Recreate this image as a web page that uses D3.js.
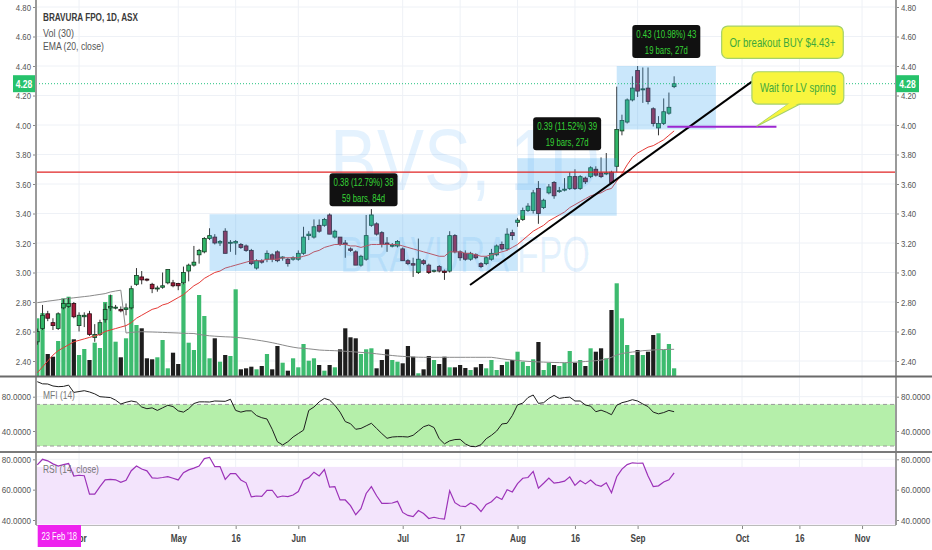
<!DOCTYPE html>
<html><head><meta charset="utf-8">
<script src="https://cdn.jsdelivr.net/npm/d3@7"></script>
<style>html,body{margin:0;padding:0;background:#fff;}svg{display:block;font-family:"Liberation Sans",Arial,sans-serif;}</style>
</head><body><svg id="c" width="932" height="550"></svg>
<script>
// ---------- DATA ----------
const opens = [2.53,2.62,2.72,2.66,2.62,2.76,2.77,2.79,2.64,2.70,
2.72,2.56,2.58,2.68,2.76,2.76,2.75,2.75,2.76,2.92,
2.97,2.955,2.92,2.89,2.90,2.93,2.93,2.925,2.93,3.01,
3.05,3.12,3.14,3.23,3.24,3.20,3.28,3.20,3.20,3.19,
3.18,3.15,3.03,3.08,3.09,3.12,3.14,3.10,3.09,3.09,
3.09,3.13,3.25,3.24,3.32,3.32,3.39,3.24,3.24,3.20,
3.16,3.14,3.05,3.09,3.32,3.33,3.27,3.20,3.18,3.18,
3.16,3.08,3.06,3.00,3.08,3.05,3.01,3.04,3.01,3.01,
3.25,3.14,3.13,3.09,3.12,3.06,3.06,3.09,3.12,3.19,
3.16,3.27,3.34,3.36,3.42,3.42,3.57,3.44,3.54,3.61,
3.55,3.56,3.57,3.65,3.57,3.64,3.65,3.70,3.675,3.67,
3.68,3.72,3.96,4.02,4.17,4.37,4.24,4.25,4.11,3.98,
4.01,4.08,4.26];
const highs = [2.62,2.78,2.74,2.69,2.73,2.82,2.83,2.80,2.73,2.73,
2.74,2.65,2.68,2.79,2.85,2.78,2.77,2.79,2.91,3.03,
3.01,2.96,2.93,2.91,3.00,3.02,2.95,2.93,3.04,3.06,
3.18,3.16,3.24,3.30,3.26,3.22,3.30,3.22,3.22,3.20,
3.19,3.16,3.09,3.09,3.15,3.13,3.15,3.11,3.10,3.11,
3.15,3.31,3.28,3.36,3.36,3.37,3.40,3.29,3.24,3.22,
3.17,3.15,3.12,3.39,3.43,3.34,3.28,3.24,3.20,3.22,
3.17,3.09,3.10,3.23,3.09,3.06,3.02,3.05,3.02,3.28,
3.26,3.15,3.15,3.14,3.13,3.07,3.11,3.16,3.19,3.21,
3.30,3.29,3.37,3.44,3.47,3.56,3.62,3.50,3.60,3.62,
3.58,3.64,3.68,3.70,3.66,3.65,3.72,3.72,3.78,3.81,
3.69,4.26,4.07,4.18,4.33,4.40,4.39,4.39,4.12,4.06,
4.18,4.22,4.33];
const lows = [2.51,2.61,2.67,2.61,2.61,2.75,2.76,2.69,2.60,2.63,
2.57,2.53,2.57,2.66,2.74,2.75,2.73,2.71,2.75,2.91,
2.92,2.94,2.86,2.87,2.89,2.92,2.90,2.88,2.92,2.94,
3.04,3.06,3.13,3.22,3.19,3.18,3.13,3.14,3.12,3.16,
3.14,3.05,3.02,3.06,3.07,3.07,3.07,3.08,3.04,3.08,
3.08,3.12,3.22,3.23,3.27,3.31,3.26,3.23,3.18,3.10,
3.14,3.05,3.04,3.08,3.31,3.25,3.17,3.14,3.17,3.17,
3.08,3.05,2.97,2.99,3.05,2.99,3.00,3.00,2.95,3.00,
3.13,3.08,3.08,3.08,3.09,3.03,3.05,3.08,3.11,3.15,
3.15,3.22,3.31,3.35,3.41,3.40,3.33,3.43,3.53,3.50,
3.54,3.55,3.56,3.56,3.56,3.60,3.64,3.65,3.64,3.66,
3.60,3.68,3.93,4.01,4.16,4.19,4.15,4.14,3.99,3.93,
4.00,4.07,4.25];
const closes = [2.60,2.71,2.69,2.64,2.72,2.79,2.79,2.70,2.71,2.71,
2.58,2.58,2.66,2.75,2.77,2.765,2.74,2.76,2.89,2.98,
2.95,2.95,2.89,2.895,2.91,3.02,2.91,2.91,3.00,3.05,
3.07,3.15,3.23,3.25,3.20,3.21,3.13,3.205,3.21,3.17,
3.15,3.06,3.08,3.07,3.13,3.09,3.08,3.105,3.06,3.10,
3.13,3.24,3.26,3.31,3.28,3.36,3.26,3.28,3.19,3.19,
3.15,3.05,3.11,3.25,3.39,3.26,3.19,3.19,3.185,3.21,
3.08,3.06,3.05,3.09,3.06,3.00,3.015,3.01,3.00,3.25,
3.14,3.10,3.09,3.13,3.10,3.04,3.10,3.13,3.18,3.16,
3.26,3.25,3.355,3.42,3.45,3.54,3.40,3.49,3.58,3.52,
3.555,3.565,3.65,3.57,3.65,3.615,3.71,3.66,3.65,3.675,
3.61,3.97,4.03,4.17,4.25,4.23,4.245,4.16,4.01,4.01,
4.09,4.12,4.28];
// volume in thousands of shares
const volumes = [577,630,220,193,350,777,793,367,210,270,
160,333,280,740,810,343,187,377,710,510,
477,177,167,187,360,77,233,120,927,333,
260,810,600,177,377,143,210,200,867,67,
77,93,67,100,220,67,300,133,53,177,
87,320,153,177,110,53,110,87,267,477,
387,377,220,267,277,77,160,267,160,143,
127,300,193,27,67,200,160,120,193,87,
87,110,80,60,87,120,77,160,60,110,
143,160,243,143,100,167,340,60,133,110,
100,133,250,133,160,100,277,243,277,177,
660,927,577,310,210,260,210,243,410,427,
260,320,77];
const volMA = [733,740,748,755,762,770,776,782,788,794,
800,808,816,824,840,850,858,430,436,440,
443,441,440,438,436,434,432,430,427,426,
425,415,408,402,398,395,392,390,387,382,
375,368,360,352,343,333,322,310,298,288,
280,277,272,266,260,257,255,253,250,247,
244,240,236,233,228,222,216,210,205,200,
196,193,190,188,187,187,187,187,187,187,
187,187,187,187,187,187,187,187,180,172,
165,160,155,150,146,143,141,139,137,135,
134,133,135,138,141,145,149,153,160,168,
187,210,225,233,240,245,253,257,260,263,
265,266,267];
const ema20 = [2.32,2.36,2.40,2.44,2.47,2.49,2.51,2.53,2.54,2.55,
2.56,2.57,2.58,2.60,2.61,2.62,2.63,2.64,2.66,2.69,
2.71,2.73,2.75,2.76,2.78,2.79,2.81,2.83,2.85,2.88,
2.91,2.93,2.96,2.98,3.00,3.01,3.03,3.04,3.05,3.06,
3.07,3.08,3.08,3.08,3.09,3.09,3.09,3.10,3.10,3.10,
3.10,3.11,3.12,3.14,3.15,3.17,3.18,3.19,3.19,3.19,
3.18,3.18,3.17,3.18,3.19,3.19,3.19,3.19,3.19,3.19,
3.18,3.17,3.16,3.15,3.14,3.13,3.12,3.11,3.11,3.14,
3.14,3.14,3.13,3.13,3.12,3.11,3.11,3.12,3.13,3.14,
3.15,3.17,3.19,3.22,3.25,3.28,3.30,3.32,3.35,3.37,
3.39,3.41,3.44,3.46,3.48,3.50,3.52,3.53,3.54,3.56,
3.57,3.62,3.67,3.73,3.78,3.81,3.83,3.85,3.86,3.88,
3.90,3.93,3.96];
const mfi14 = [97.5,95,94.8,92.5,91.7,92,93.5,85,86,87,
85.5,83.3,80,79.5,79,76,71.5,73.5,75,73.8,
68,66,67,64,67,70,68.5,63.5,62,66,
72,74,74,73.8,75,74.8,74.6,77,64,62,
63.5,63.5,58,55.5,54,42,27.5,23.7,27.5,33,
37,41,64,68,74,78,76,70,62,51,
48.5,42,43,46,49,43,37,31.5,33,33.4,
33.4,33,35,40,45,47,44,31,25,28.5,
30,30.3,25,22,21.7,24,31,35,40,48.2,
49,58,70.5,72.5,79,82,72.2,73,78,81.5,
78,79,79.5,75,75,70.3,69,62.5,64.3,62,
59,70,73,74.5,76.5,75,71.5,68.5,62,60,
61.5,64,62.5];
const rsi14 = [76.3,80,79,77,75.5,76.5,77.2,69,69.5,69.2,
57,57,62,66.5,66.8,66.5,64.8,66.2,72.5,75.6,
73.6,72.4,67.8,67.5,68,68.6,67.5,66.4,71.2,73,
74.2,75.5,80.5,81.3,75.2,75.2,66.8,70.5,70.5,66.4,
64.5,55.2,55.8,55.6,59.5,59.6,54.9,55.8,55.4,56.5,
58.7,66.2,67.9,71.5,69,73.2,61.7,62,53.2,53.2,
49.5,43.5,47.5,57.5,62,56,51,51,51.2,52.3,
45,43,42.2,46.2,44.3,41,41.8,41,40.6,59.3,
51.4,49.2,48.8,51.2,49.5,45.5,50.3,52,55.4,53.5,
60,58.5,64,67.5,68,72,61,64.2,67.6,64.3,
64.8,65.6,68.4,62.8,66,63.8,66.4,63.2,62.2,64.5,
58,68.5,73.5,76.5,77.7,77.4,77.5,69,62,62.5,
65,66.5,71];
const tickBars = [8,27,38,50,70,81,92,103,115,135,146,158];
const tickLabels = ["Apr","May","16","Jun","Jul","17","Aug","16","Sep","Oct","16","Nov"];
const priceTicks = [2.4,2.6,2.8,3.0,3.2,3.4,3.6,3.8,4.0,4.2,4.4,4.6,4.8];
const mfiTicks = [40,80];
const rsiTicks = [40,60,80];
const mfiBand = [22.5,71];
const rsiBand = [37,75];
const lastPrice = 4.28;
const resistance = 3.68;
const trendIdx = [82.9,136.9], trendPrice = [2.915,4.294];
const supportIdx = [120.7,141.6], supportPrice = 3.988;
const rangeStart = [33,92,111], rangeEnd = [92,111,130];
const rangeLow = [3.01,3.385,3.97], rangeHigh = [3.395,3.775,4.40];
const rangeLine1 = ["0.38 (12.79%) 38","0.39 (11.52%) 39","0.43 (10.98%) 43"];
const rangeLine2 = ["59 bars, 84d","19 bars, 27d","19 bars, 27d"];
const calloutText = ["Or breakout BUY $4.43+","Wait for LV spring"];
const calloutIdx = [[131.1,154.4],[136.9,154.5]];
const calloutPrice = [[4.671,4.452],[4.361,4.142]];
const tailIdx = [144.2,146.5,137.8], tailPrice = 3.991;
const legend = ["BRAVURA FPO, 1D, ASX","Vol (30)","EMA (20, close)"];
const watermark = ["BVS, 1D","BRAVURA FPO"];
const crossDate = "23 Feb '18";

// ---------- LAYOUT ----------
const svg = d3.select("#c");
const L = 36, R = 896, mainBot = 376, mfiTop = 377, mfiBot = 451, rsiTop = 453, rsiBot = 525;
const x = d3.scaleLinear().domain([0,100]).range([37.3,559.3]);
const yP = d3.scaleLinear().domain([2.40,4.80]).range([361,7]);
const yV = d3.scaleLinear().domain([0,1000]).range([376,276]);
const yM = d3.scaleLinear().domain([40,80]).range([431,396.7]);
const yR = d3.scaleLinear().domain([40,80]).range([520,459.3]);
const idx = d3.range(closes.length);

function ctext(parent, px, py, str, o) {
  const g = parent.append("g").attr("transform", `translate(${px},${py})`);
  const t = g.append("text").text(str).attr("font-size", o.size || 11)
    .attr("fill", o.fill || "#333").attr("font-weight", o.weight || "normal")
    .attr("text-anchor", o.anchor || "start");
  let sx = o.sx || 0.78;
  if (o.w) { const n = t.node().getComputedTextLength(); if (n > 0) sx = o.w / n; }
  t.attr("transform", `scale(${sx},1)`);
  return t;
}

const defs = svg.append("defs");
defs.append("clipPath").attr("id","cm").append("rect").attr("x",L).attr("y",0).attr("width",R-L).attr("height",mainBot);
defs.append("clipPath").attr("id","cf").append("rect").attr("x",L).attr("y",mfiTop).attr("width",R-L).attr("height",mfiBot-mfiTop);
defs.append("clipPath").attr("id","cr").append("rect").attr("x",L).attr("y",rsiTop).attr("width",R-L).attr("height",rsiBot-rsiTop);

// grid
const grid = svg.append("g").attr("stroke","#eef1f6").attr("stroke-width",1);
grid.selectAll(".v").data(tickBars).join("line").attr("x1",d=>x(d)).attr("x2",d=>x(d)).attr("y1",0).attr("y2",rsiBot);
grid.selectAll(".hp").data(priceTicks).join("line").attr("x1",L).attr("x2",R).attr("y1",d=>yP(d)).attr("y2",d=>yP(d));
grid.selectAll(".hm").data(mfiTicks).join("line").attr("x1",L).attr("x2",R).attr("y1",d=>yM(d)).attr("y2",d=>yM(d));
grid.selectAll(".hr").data(rsiTicks).join("line").attr("x1",L).attr("x2",R).attr("y1",d=>yR(d)).attr("y2",d=>yR(d));

// ---------- MAIN PANE ----------
const main = svg.append("g").attr("clip-path","url(#cm)");
const wm = main.append("g").attr("fill","rgba(33,150,243,0.12)");
ctext(wm, 465, 190, watermark[0], {size:88, w:270, anchor:"middle", fill:"rgba(33,150,243,0.12)"});
ctext(wm, 465, 272, watermark[1], {size:50, w:250, anchor:"middle", fill:"rgba(33,150,243,0.12)"});

// volume
main.append("g").selectAll("rect").data(idx).join("rect")
  .attr("x",i=>x(i)-2.1).attr("width",4.2)
  .attr("y",i=>yV(volumes[i])).attr("height",i=>yV(0)-yV(volumes[i]))
  .attr("fill",i=>closes[i]>=opens[i]?"#3dbb6f":"#1e1e1e");
main.append("path").datum(idx).attr("fill","none").attr("stroke","#8a8a8a").attr("stroke-width",1)
  .attr("d", d3.line().x(i=>x(i)).y(i=>yV(volMA[i])));

// candles
const cg = main.append("g");
cg.selectAll("line").data(idx).join("line")
  .attr("x1",i=>x(i)).attr("x2",i=>x(i)).attr("y1",i=>yP(highs[i])).attr("y2",i=>yP(lows[i]))
  .attr("stroke","#333").attr("stroke-width",1);
cg.selectAll("rect").data(idx).join("rect")
  .attr("x",i=>x(i)-1.9).attr("width",3.8)
  .attr("y",i=>yP(Math.max(opens[i],closes[i])))
  .attr("height",i=>Math.max(1,Math.abs(yP(opens[i])-yP(closes[i]))))
  .attr("fill",i=>closes[i]>=opens[i]?"#30b566":"#a3193a")
  .attr("stroke",i=>closes[i]>=opens[i]?"#123d22":"#2a0a10").attr("stroke-width",0.8);

// EMA
main.append("path").datum(idx).attr("fill","none").attr("stroke","#e53935").attr("stroke-width",1)
  .attr("d", d3.line().x(i=>x(i)).y(i=>yP(ema20[i])));

// range boxes
const rg = main.append("g");
rangeStart.forEach((s,k)=>{
  rg.append("rect").attr("x",x(s)).attr("width",x(rangeEnd[k])-x(s))
    .attr("y",yP(rangeHigh[k])).attr("height",yP(rangeLow[k])-yP(rangeHigh[k]))
    .attr("fill","rgba(66,170,240,0.28)");
});

// horizontal lines
main.append("line").attr("x1",L).attr("x2",R).attr("y1",yP(resistance)).attr("y2",yP(resistance))
  .attr("stroke","#e02424").attr("stroke-width",1.3);
main.append("line").attr("x1",L).attr("x2",R).attr("y1",yP(lastPrice)).attr("y2",yP(lastPrice))
  .attr("stroke","#26c281").attr("stroke-width",1).attr("stroke-dasharray","1,2");
// trendline
main.append("line").attr("x1",x(trendIdx[0])).attr("y1",yP(trendPrice[0]))
  .attr("x2",x(trendIdx[1])).attr("y2",yP(trendPrice[1])).attr("stroke","#000").attr("stroke-width",2);
// support
main.append("line").attr("x1",x(supportIdx[0])).attr("x2",x(supportIdx[1]))
  .attr("y1",yP(supportPrice)).attr("y2",yP(supportPrice)).attr("stroke","#9c27d0").attr("stroke-width",2);

// range labels
rangeStart.forEach((s,k)=>{
  const cx = (x(s)+x(rangeEnd[k]))/2, bot = yP(rangeHigh[k]) - 8, top = bot - 33;
  rg.append("rect").attr("x",cx-34).attr("y",top).attr("width",68).attr("height",33).attr("rx",3).attr("fill","#111");
  ctext(rg, cx, top+13, rangeLine1[k], {size:11, w:60, anchor:"middle", fill:"#36d436"});
  ctext(rg, cx, top+28.5, rangeLine2[k], {size:11, w:43, anchor:"middle", fill:"#36d436"});
});

// callouts
const co = main.append("g");
const t = co.append("path").attr("fill","#f8f53e").attr("stroke","#a5d16a").attr("stroke-width",1.2)
  .attr("d", `M${x(tailIdx[0])},${yP(calloutPrice[1][1])-1} L${x(tailIdx[2])},${yP(tailPrice)} L${x(tailIdx[1])},${yP(calloutPrice[1][1])-1}`);
calloutText.forEach((s,k)=>{
  const x0 = x(calloutIdx[k][0]), x1 = x(calloutIdx[k][1]), y0 = yP(calloutPrice[k][0]), y1 = yP(calloutPrice[k][1]);
  co.append("rect").attr("x",x0).attr("y",y0).attr("width",x1-x0).attr("height",y1-y0).attr("rx",6)
    .attr("fill","#f8f53e").attr("stroke","#a5d16a").attr("stroke-width",1.2);
  ctext(co, (x0+x1)/2, (y0+y1)/2+4.5, s, {size:13, w:k===0?106:76, anchor:"middle", fill:"#3da83d"});
});
// cover tail seam
co.append("path").attr("fill","#f8f53e")
  .attr("d", `M${x(tailIdx[0])+1},${yP(calloutPrice[1][1])-2} L${x(tailIdx[2])+3},${yP(tailPrice)-2} L${x(tailIdx[1])-1},${yP(calloutPrice[1][1])-2}Z`);

// legend
ctext(svg, 43, 20.5, legend[0], {size:11.5, w:95, weight:"bold", fill:"#3a3a3a"});
ctext(svg, 43, 37, legend[1], {size:11, w:31, fill:"#555"});
ctext(svg, 43, 50, legend[2], {size:11, w:61, fill:"#555"});

// ---------- MFI PANE ----------
const mp = svg.append("g").attr("clip-path","url(#cf)");
mp.append("rect").attr("x",L).attr("width",R-L).attr("y",yM(mfiBand[1])).attr("height",yM(mfiBand[0])-yM(mfiBand[1])).attr("fill","#b5efaa");
mfiBand.forEach(v=>mp.append("line").attr("x1",L).attr("x2",R).attr("y1",yM(v)).attr("y2",yM(v))
  .attr("stroke","#9a9a9a").attr("stroke-dasharray","4,3"));
mp.append("path").datum(idx).attr("fill","none").attr("stroke","#1e1e1e").attr("stroke-width",1)
  .attr("d", d3.line().x(i=>x(i)).y(i=>yM(mfi14[i])));
ctext(svg, 43, 399, "MFI (14)", {size:11, w:32, fill:"#777"});

// ---------- RSI PANE ----------
const rp = svg.append("g").attr("clip-path","url(#cr)");
rp.append("rect").attr("x",L).attr("width",R-L).attr("y",yR(rsiBand[1])).attr("height",yR(rsiBand[0])-yR(rsiBand[1])).attr("fill","#f3e4fc");
rp.append("path").datum(idx).attr("fill","none").attr("stroke","#9c32b8").attr("stroke-width",1.2)
  .attr("d", d3.line().x(i=>x(i)).y(i=>yR(rsi14[i])));
ctext(svg, 43, 473, "RSI (14, close)", {size:11, w:56, fill:"#777"});

// ---------- AXES ----------
function styleAxis(g, sx, size, weight, fill) {
  g.select(".domain").remove();
  g.selectAll(".tick line").attr("stroke","#888");
  g.selectAll(".tick text").attr("font-size",size).attr("fill",fill).attr("font-weight",weight)
    .attr("font-family","'Liberation Sans',Arial,sans-serif")
    .each(function(){ const s=d3.select(this); const xx=+s.attr("x")||0; s.attr("x",xx/sx).attr("transform",`scale(${sx},1)`); });
}
const f2 = d3.format(".2f"), f4 = d=>d.toFixed(4);
[[d3.axisRight, R],[d3.axisLeft, L]].forEach(([ax,px])=>{
  const g1 = svg.append("g").attr("transform",`translate(${px},0)`).call(ax(yP).tickValues(priceTicks).tickFormat(f2).tickSize(3).tickPadding(2));
  styleAxis(g1, 0.82, 9.5, "normal", "#555");
  const g2 = svg.append("g").attr("transform",`translate(${px},0)`).call(ax(yM).tickValues(mfiTicks).tickFormat(f4).tickSize(3).tickPadding(2));
  styleAxis(g2, 0.85, 9.5, "normal", "#555");
  const g3 = svg.append("g").attr("transform",`translate(${px},0)`).call(ax(yR).tickValues(rsiTicks).tickFormat(f4).tickSize(3).tickPadding(2));
  styleAxis(g3, 0.85, 9.5, "normal", "#555");
});
const gx = svg.append("g").attr("transform",`translate(0,${rsiBot})`)
  .call(d3.axisBottom(x).tickValues(tickBars).tickFormat((d,i)=>tickLabels[i]).tickSize(4).tickPadding(6));
styleAxis(gx, 0.78, 10.5, "bold", "#444");

// borders & separators
const bd = svg.append("g").attr("stroke","#9a9a9a");
bd.append("line").attr("x1",L).attr("x2",L).attr("y1",0).attr("y2",rsiBot).attr("stroke-width",2);
bd.append("line").attr("x1",R).attr("x2",R).attr("y1",0).attr("y2",rsiBot).attr("stroke-width",2);
bd.append("line").attr("x1",0).attr("x2",932).attr("y1",mainBot+0.5).attr("y2",mainBot+0.5).attr("stroke","#6a6a6a").attr("stroke-width",2);
bd.append("line").attr("x1",0).attr("x2",932).attr("y1",452).attr("y2",452).attr("stroke","#7a7a7a").attr("stroke-width",2);
bd.append("line").attr("x1",L).attr("x2",R).attr("y1",rsiBot+0.5).attr("y2",rsiBot+0.5).attr("stroke","#bbb").attr("stroke-width",1);

// last price labels
[[13,35],[R,919]].forEach(([a,b])=>{
  svg.append("rect").attr("x",a).attr("y",yP(lastPrice)-8.5).attr("width",b-a).attr("height",17).attr("fill","#26c26b");
  ctext(svg, (a+b)/2, yP(lastPrice)+3.8, f2(lastPrice), {size:10.5, w:16.5, weight:"bold", anchor:"middle", fill:"#fff"});
});

// crosshair date label
svg.append("rect").attr("x",37.7).attr("y",525).attr("width",43.3).attr("height",22).attr("fill","#ee22ee");
ctext(svg, 59.3, 540, crossDate, {size:10.5, w:35.6, anchor:"middle", fill:"#fff"});
</script></body></html>
